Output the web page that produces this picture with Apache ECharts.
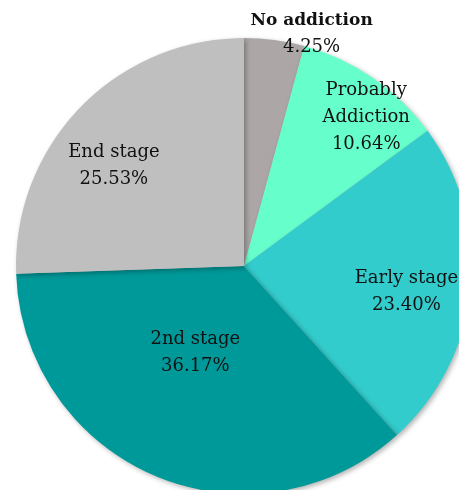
<!DOCTYPE html>
<html>
<head>
<meta charset="utf-8">
<script src="https://cdn.jsdelivr.net/npm/echarts@6/dist/echarts.min.js"></script>
<style>
  html, body { margin: 0; padding: 0; background: #fff; }
  #main { width: 459px; height: 490px; }
</style>
</head>
<body>
<div id="main"></div>
<script>
// slices go clockwise from 12 o'clock
const categories = ['No addiction', 'Probably Addiction', 'Early stage', '2nd stage', 'End stage'];
const percents = [4.25, 10.64, 23.40, 36.17, 25.53];
const colors = ['#aca7a6', '#66ffcc', '#33cccc', '#009999', '#c0bfbf'];
// nudges from the default inside spot to where the labels sit
const labelOffsets = [[52, -116], [56, -52], [46, 14], [-3, -21], [-46, -19]];

const myChart = echarts.init(document.getElementById('main'));

const data = categories.map((name, i) => ({
    name: name,
    value: percents[i],
    itemStyle: { color: colors[i] },
    label: { offset: labelOffsets[i] }
}));

const font = 'DejaVu Serif';

const option = {
    animation: false,
    series: [{
        type: 'pie',
        center: [244, 266],
        radius: [0, 228],
        startAngle: 90,
        clockwise: true,
        data: data,
        itemStyle: {
            borderWidth: 0,
            shadowBlur: 5,
            shadowOffsetX: 2,
            shadowOffsetY: 2,
            shadowColor: 'rgba(0, 0, 0, 0.3)'
        },
        label: {
            show: true,
            position: 'inside',
            color: '#111',
            fontFamily: font,
            fontSize: 18,
            lineHeight: 27,
            align: 'center',
            formatter: p => {
                const name = p.name === 'Probably Addiction' ? 'Probably\nAddiction' : p.name;
                const pct = p.value.toFixed(2) + '%';
                if (p.dataIndex === 0) return '{b|' + name + '}\n' + pct;
                return name + '\n' + pct;
            },
            rich: {
                b: { fontFamily: font, fontSize: 17, fontWeight: 'bold', color: '#111', lineHeight: 27 }
            }
        },
        labelLine: { show: false },
        emphasis: { disabled: true }
    }]
};
myChart.setOption(option);
</script>
</body>
</html>
